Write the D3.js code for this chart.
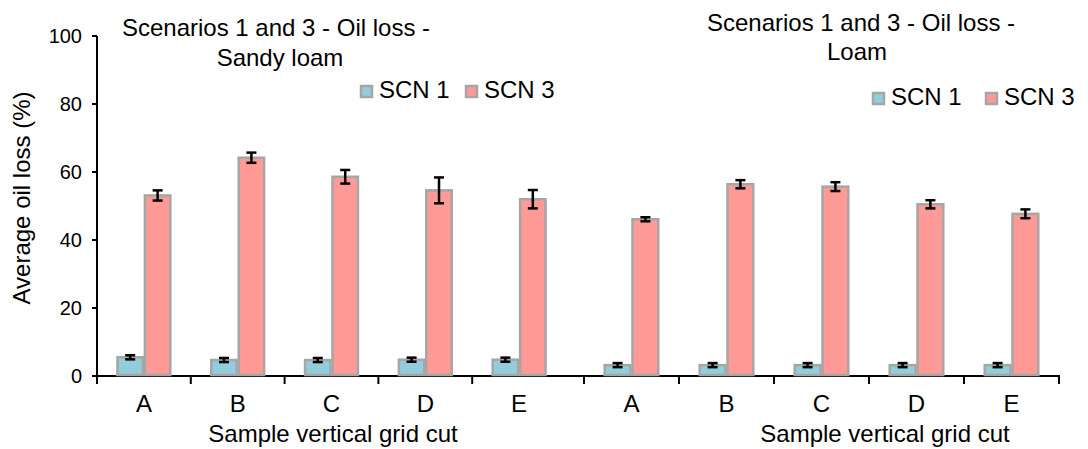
<!DOCTYPE html>
<html>
<head>
<meta charset="utf-8">
<script src="https://cdn.jsdelivr.net/npm/d3@7"></script>
<style>
  html, body { margin: 0; padding: 0; background: #fff; }
  svg { display: block; font-family: "Liberation Sans", Arial, sans-serif; }
</style>
</head>
<body>
<svg id="chart" width="1088" height="449"></svg>
<script>
// Grid-cut samples
const categories = ["A", "B", "C", "D", "E"];
const seriesNames = ["SCN 1", "SCN 3"];

// Sandy loam: average oil loss (%) and error
const sandySCN1 = [5.5, 4.7, 4.7, 4.8, 4.8];
const sandySCN1Err = [0.6, 0.6, 0.6, 0.6, 0.6];
const sandySCN3 = [53.1, 64.2, 58.6, 54.6, 52.0];
const sandySCN3Err = [1.5, 1.5, 2.0, 3.8, 2.7];

// Loam: average oil loss (%) and error
const loamSCN1 = [3.2, 3.2, 3.2, 3.2, 3.2];
const loamSCN1Err = [0.6, 0.6, 0.6, 0.6, 0.6];
const loamSCN3 = [46.1, 56.4, 55.7, 50.5, 47.7];
const loamSCN3Err = [0.6, 1.2, 1.3, 1.2, 1.3];

const yTicks = [0, 20, 40, 60, 80, 100];

const colors = { "SCN 1": "#92cddc", "SCN 3": "#ff9a96" };
const barStroke = "#a6a6a6";

const svg = d3.select("#chart");

const y = d3.scaleLinear().domain([0, 100]).range([376, 36]);

// y axis
const yAxis = svg.append("g").attr("transform", "translate(97,0)");
yAxis.append("line").attr("x1", 0).attr("x2", 0).attr("y1", y(100)).attr("y2", y(0) + 1)
  .attr("stroke", "#000").attr("stroke-width", 2);
yTicks.forEach(t => {
  yAxis.append("line").attr("x1", -5).attr("x2", 0).attr("y1", y(t)).attr("y2", y(t))
    .attr("stroke", "#000").attr("stroke-width", 2);
  yAxis.append("text").attr("x", -15).attr("y", y(t)).attr("dy", "0.35em")
    .attr("text-anchor", "end").attr("font-size", 20).attr("fill", "#000").text(t);
});
svg.append("text")
  .attr("transform", "translate(30,198) rotate(-90)")
  .attr("text-anchor", "middle").attr("font-size", 24).attr("fill", "#000")
  .text("Average oil loss (%)");

// continuous baseline across both panels
svg.append("line").attr("x1", 96).attr("x2", 1060).attr("y1", y(0)).attr("y2", y(0))
  .attr("stroke", "#000").attr("stroke-width", 2);

const panels = [
  {
    range: [97, 566], s1: sandySCN1, e1: sandySCN1Err, s3: sandySCN3, e3: sandySCN3Err,
    endTick: false,
    title: ["Scenarios 1 and 3 - Oil loss -", "Sandy loam"], titleX: [276, 280], titleY: [36, 66],
    legendX: 360, legendY: 85, legendGap: 105, xTitleX: 333
  },
  {
    range: [584, 1059], s1: loamSCN1, e1: loamSCN1Err, s3: loamSCN3, e3: loamSCN3Err,
    endTick: true,
    title: ["Scenarios 1 and 3 - Oil loss -", "Loam"], titleX: [861, 857], titleY: [31, 60],
    legendX: 872, legendY: 92, legendGap: 113, xTitleX: 885
  }
];

panels.forEach(p => {
  const x = d3.scaleBand().domain(categories).range(p.range).paddingInner(0.415).paddingOuter(0.2075);
  const xs = d3.scaleBand().domain(seriesNames).range([0, x.bandwidth()]);
  const step = x.step();

  // ticks between categories
  const g = svg.append("g");
  categories.forEach((c, i) => {
    const tx = p.range[0] + i * step;
    g.append("line").attr("x1", tx).attr("x2", tx).attr("y1", y(0)).attr("y2", y(0) + 8)
      .attr("stroke", "#000").attr("stroke-width", 2);
  });
  if (p.endTick) {
    g.append("line").attr("x1", p.range[1]).attr("x2", p.range[1]).attr("y1", y(0)).attr("y2", y(0) + 8)
      .attr("stroke", "#000").attr("stroke-width", 2);
  }
  categories.forEach(c => {
    g.append("text").attr("x", x(c) + x.bandwidth() / 2).attr("y", 412)
      .attr("text-anchor", "middle").attr("font-size", 24).attr("fill", "#000").text(c);
  });
  g.append("text").attr("x", p.xTitleX).attr("y", 442)
    .attr("text-anchor", "middle").attr("font-size", 24).attr("fill", "#000")
    .text("Sample vertical grid cut");

  const rows = [];
  categories.forEach((c, i) => {
    rows.push({ cat: c, s: "SCN 1", v: p.s1[i], e: p.e1[i] });
    rows.push({ cat: c, s: "SCN 3", v: p.s3[i], e: p.e3[i] });
  });

  // bars
  svg.append("g").selectAll("rect").data(rows).join("rect")
    .attr("x", d => x(d.cat) + xs(d.s) + 1)
    .attr("y", d => y(d.v))
    .attr("width", xs.bandwidth() - 2)
    .attr("height", d => y(0) - y(d.v) - 1)
    .attr("fill", d => colors[d.s])
    .attr("stroke", barStroke).attr("stroke-width", 2.5);

  // error bars
  const eb = svg.append("g").attr("stroke", "#000").attr("stroke-width", 2.5);
  rows.forEach(d => {
    const cx = x(d.cat) + xs(d.s) + xs.bandwidth() / 2;
    const y1 = y(d.v + d.e), y2 = y(d.v - d.e);
    eb.append("line").attr("x1", cx).attr("x2", cx).attr("y1", y1).attr("y2", y2);
    eb.append("line").attr("x1", cx - 5).attr("x2", cx + 5).attr("y1", y1).attr("y2", y1);
    eb.append("line").attr("x1", cx - 5).attr("x2", cx + 5).attr("y1", y2).attr("y2", y2);
  });

  // title
  p.title.forEach((t, i) => {
    svg.append("text").attr("x", p.titleX[i]).attr("y", p.titleY[i])
      .attr("text-anchor", "middle").attr("font-size", 24).attr("fill", "#000").text(t);
  });

  // legend
  const lg = svg.append("g");
  seriesNames.forEach((s, i) => {
    const lx = p.legendX + i * p.legendGap;
    lg.append("rect").attr("x", lx + 1).attr("y", p.legendY + 1).attr("width", 11).attr("height", 11)
      .attr("fill", colors[s]).attr("stroke", barStroke).attr("stroke-width", 2.5);
    lg.append("text").attr("x", lx + 19).attr("y", p.legendY + 12.5)
      .attr("font-size", 24).attr("fill", "#000").text(s);
  });
});
</script>
</body>
</html>
